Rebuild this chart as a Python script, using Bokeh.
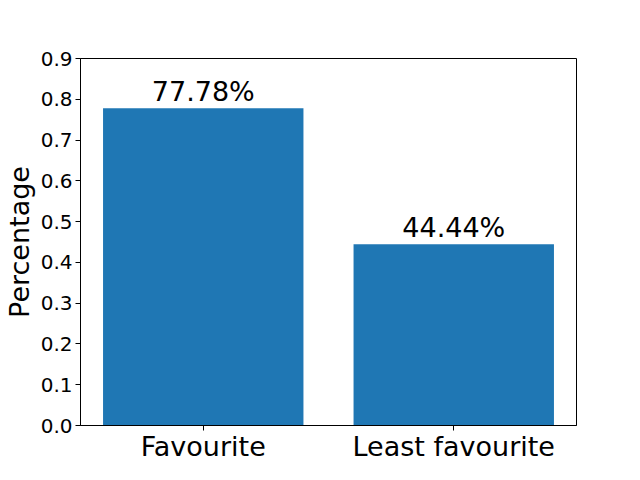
from bokeh.plotting import figure
from bokeh.models import ColumnDataSource, Range1d, FixedTicker, NumeralTickFormatter
from bokeh.core.properties import value
from bokeh.embed import file_html
from bokeh.resources import INLINE

categories = ["Favourite", "Least favourite"]
percentages = [0.7778, 0.4444]
y_ticks = [0.0, 0.1, 0.2, 0.3, 0.4, 0.5, 0.6, 0.7, 0.8, 0.9]

xs = list(range(len(categories)))
labels = [f"{v*100:.2f}%" for v in percentages]
src = ColumnDataSource(data=dict(x=xs, top=percentages, label=labels))

FONT = "DejaVu Sans"

p = figure(width=624, height=464, output_backend="svg", toolbar_location=None,
           x_range=Range1d(-0.49, 1.49), y_range=Range1d(0, 0.9),
           min_border_left=80, min_border_right=48, min_border_top=58, min_border_bottom=37)

p.vbar(x="x", top="top", width=0.8, bottom=0, source=src, color="#1f77b4", line_color=None)
p.text(x="x", y="top", text="label", source=src, text_align="center", text_baseline="bottom",
       y_offset=-1, text_font=value(FONT), text_font_size="27px", text_color="black")

p.xgrid.visible = False
p.ygrid.visible = False
p.outline_line_color = "black"
p.outline_line_width = 1
p.outline_line_alpha = 1

p.xaxis.ticker = FixedTicker(ticks=xs)
p.xaxis.major_label_overrides = {i: c for i, c in enumerate(categories)}
p.xaxis.minor_tick_line_color = None
p.yaxis.ticker = FixedTicker(ticks=y_ticks)
p.yaxis.formatter = NumeralTickFormatter(format="0.0")
p.yaxis.minor_tick_line_color = None
p.yaxis.axis_label = "Percentage"

for ax in (p.xaxis, p.yaxis):
    ax.major_tick_in = 0
    ax.major_tick_out = 5
    ax.major_tick_line_color = "black"
    ax.axis_line_color = "black"
    ax.major_label_text_font = FONT
    ax.major_label_text_color = "black"
    ax.axis_label_text_font = FONT
    ax.axis_label_text_font_style = "normal"
    ax.axis_label_text_color = "black"
    ax.axis_label_text_font_size = "27px"
    ax.major_label_standoff = 3

p.xaxis.major_label_standoff = 0
p.xaxis.major_label_text_font_size = "27px"
p.yaxis.major_label_text_font_size = "20px"
p.yaxis.axis_label_standoff = 3

open("out.html", "w").write(file_html(p, INLINE))
